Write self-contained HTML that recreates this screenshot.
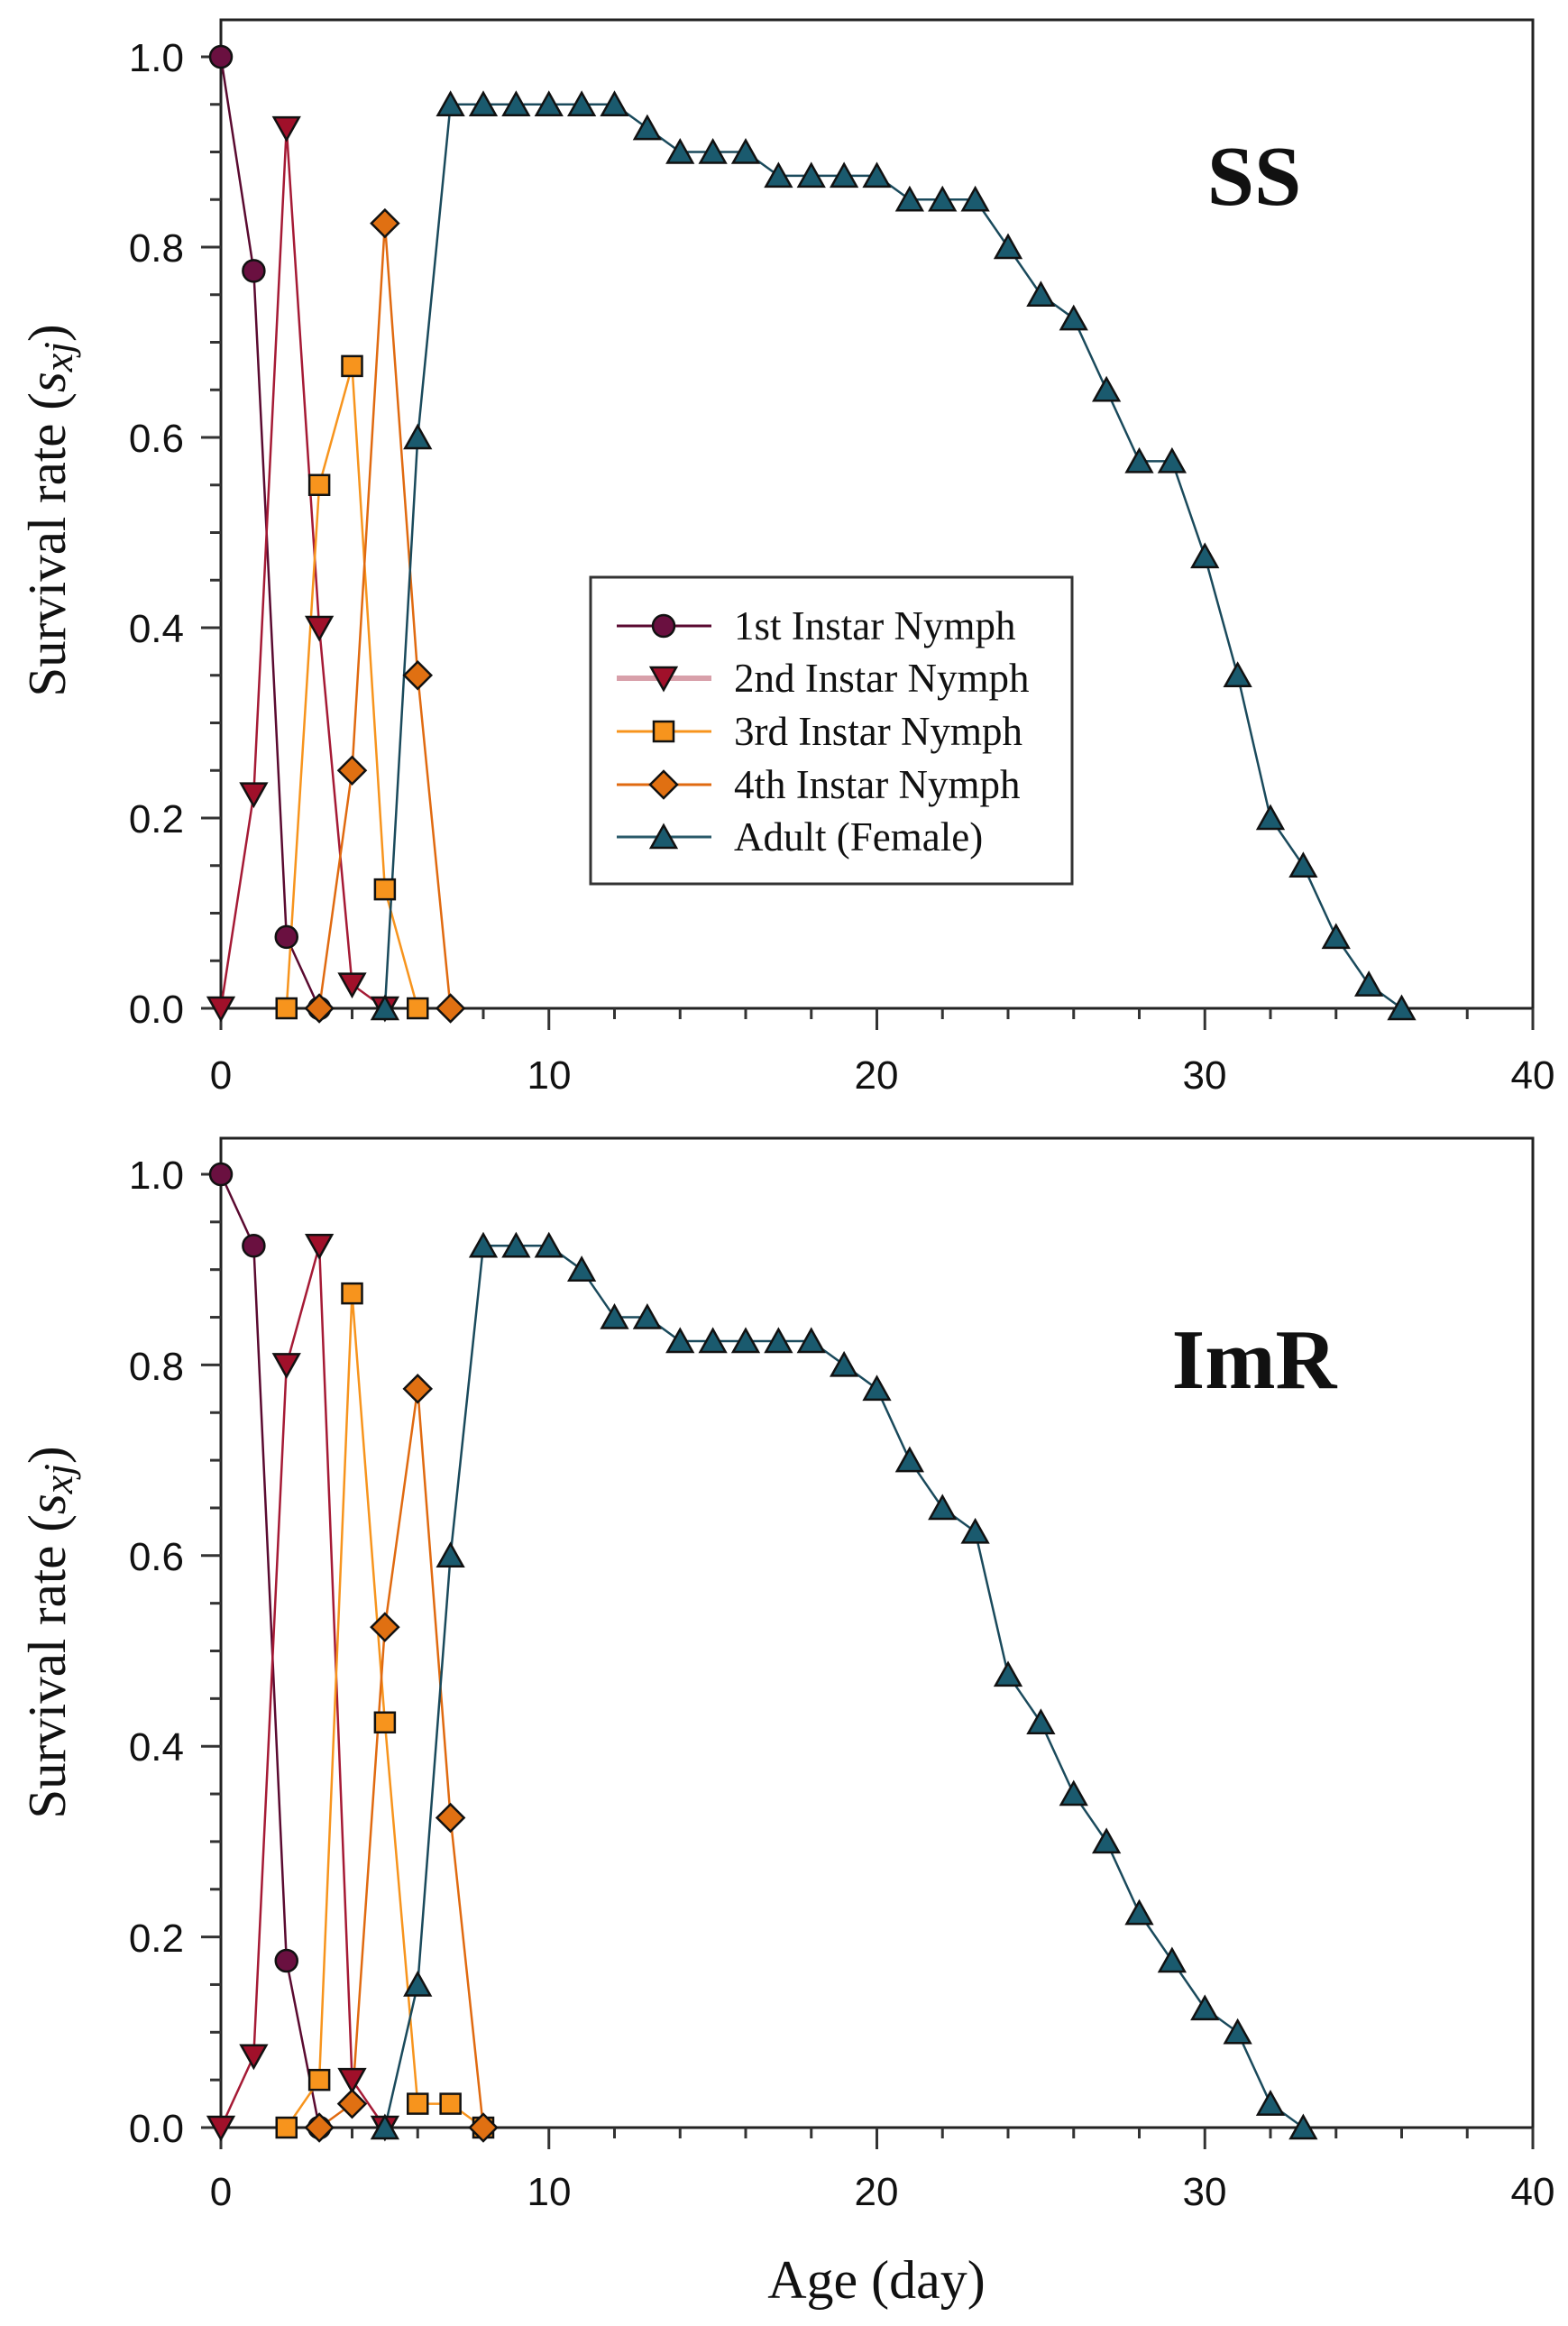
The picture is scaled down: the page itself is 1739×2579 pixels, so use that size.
<!DOCTYPE html>
<html><head><meta charset="utf-8"><style>
html,body{margin:0;padding:0;background:#fff}
svg{display:block}
.t{font-family:"Liberation Sans",Arial,sans-serif;font-size:44px;fill:#111}
.s{font-family:"Liberation Serif","Times New Roman",serif;fill:#111}
</style></head><body>
<svg id="c" width="1739" height="2579" viewBox="0 0 1739 2579" xmlns="http://www.w3.org/2000/svg">
<g id="g"></g>
<g class="t" text-anchor="end">
<text x="204" y="79">1.0</text><text x="204" y="290">0.8</text><text x="204" y="501">0.6</text>
<text x="204" y="712">0.4</text><text x="204" y="923">0.2</text><text x="204" y="1134">0.0</text>
<text x="204" y="1318">1.0</text><text x="204" y="1530">0.8</text><text x="204" y="1741">0.6</text>
<text x="204" y="1952">0.4</text><text x="204" y="2164">0.2</text><text x="204" y="2375">0.0</text>
</g>
<g class="t" text-anchor="middle">
<text x="245" y="1207">0</text><text x="609" y="1207">10</text><text x="972" y="1207">20</text><text x="1336" y="1207">30</text><text x="1700" y="1207">40</text>
<text x="245" y="2445">0</text><text x="609" y="2445">10</text><text x="972" y="2445">20</text><text x="1336" y="2445">30</text><text x="1700" y="2445">40</text>
</g>
<text class="s" x="972" y="2548" font-size="60" text-anchor="middle">Age (day)</text>
<text class="s" font-size="59" text-anchor="middle" transform="translate(72,566) rotate(-90)">Survival rate (<tspan font-style="italic">s<tspan baseline-shift="-8" font-size="46">xj</tspan></tspan>)</text>
<text class="s" font-size="59" text-anchor="middle" transform="translate(72,1810) rotate(-90)">Survival rate (<tspan font-style="italic">s<tspan baseline-shift="-8" font-size="46">xj</tspan></tspan>)</text>
<text class="s" x="1391" y="227" font-size="94" font-weight="bold" text-anchor="middle">SS</text>
<text class="s" x="1391" y="1539" font-size="94" font-weight="bold" text-anchor="middle">ImR</text>
<rect x="655" y="640" width="534" height="340" fill="#fff" stroke="#333" stroke-width="3"/>
<g class="s" font-size="45">
<text x="814" y="709">1st Instar Nymph</text>
<text x="814" y="767">2nd Instar Nymph</text>
<text x="814" y="826">3rd Instar Nymph</text>
<text x="814" y="885">4th Instar Nymph</text>
<text x="814" y="943">Adult (Female)</text>
</g>
<g id="leg"></g>
</svg>
<script>
var NS="http://www.w3.org/2000/svg";
function el(p,n,a){var e=document.createElementNS(NS,n);for(var k in a)e.setAttribute(k,a[k]);p.appendChild(e);return e;}
var g=document.getElementById('g');
var S=[
 {f:'#6a1040',l:'#5a0a30',m:'c'},
 {f:'#a0102a',l:'#a51a35',m:'v'},
 {f:'#f7941d',l:'#f7941d',m:'s'},
 {f:'#e07012',l:'#e06a10',m:'d'},
 {f:'#1a5a6e',l:'#1a4a5c',m:'^'}];
function mk(p,m,x,y,f){
 var st={fill:f,stroke:'#111','stroke-width':2.5};
 if(m=='c'){st.cx=x;st.cy=y;st.r=12;el(p,'circle',st);}
 else if(m=='s'){st.x=x-11;st.y=y-11;st.width=22;st.height=22;el(p,'rect',st);}
 else if(m=='d'){st.points=[x,y-15,x+15,y,x,y+15,x-15,y].join(' ');el(p,'polygon',st);}
 else if(m=='v'){st.points=[x-14,y-12,x+14,y-12,x,y+13].join(' ');el(p,'polygon',st);}
 else {st.points=[x-14,y+12,x+14,y+12,x,y-13].join(' ');el(p,'polygon',st);}
}
var D1=[
 [[0,1],[1,.775],[2,.075],[3,0]],
 [[0,0],[1,.225],[2,.925],[3,.4],[4,.025],[5,0]],
 [[2,0],[3,.55],[4,.675],[5,.125],[6,0]],
 [[3,0],[4,.25],[5,.825],[6,.35],[7,0]],
 [[5,0],[6,.6],[7,.95],[8,.95],[9,.95],[10,.95],[11,.95],[12,.95],[13,.925],[14,.9],[15,.9],[16,.9],[17,.875],[18,.875],[19,.875],[20,.875],[21,.85],[22,.85],[23,.85],[24,.8],[25,.75],[26,.725],[27,.65],[28,.575],[29,.575],[30,.475],[31,.35],[32,.2],[33,.15],[34,.075],[35,.025],[36,0]]];
var D2=[
 [[0,1],[1,.925],[2,.175],[3,0]],
 [[0,0],[1,.075],[2,.8],[3,.925],[4,.05],[5,0]],
 [[2,0],[3,.05],[4,.875],[5,.425],[6,.025],[7,.025],[8,0]],
 [[3,0],[4,.025],[5,.525],[6,.775],[7,.325],[8,0]],
 [[5,0],[6,.15],[7,.6],[8,.925],[9,.925],[10,.925],[11,.9],[12,.85],[13,.85],[14,.825],[15,.825],[16,.825],[17,.825],[18,.825],[19,.8],[20,.775],[21,.7],[22,.65],[23,.625],[24,.475],[25,.425],[26,.35],[27,.3],[28,.225],[29,.175],[30,.125],[31,.1],[32,.025],[33,0]]];
function panel(top,y1,y0,D){
 var X=function(v){return 245+v*36.375}, Y=function(v){return y0-(y0-y1)*v};
 el(g,'rect',{x:245,y:top,width:1455,height:y0-top,fill:'none',stroke:'#222','stroke-width':3});
 for(var i=0;i<=20;i++){var yy=Y(i*0.05);var L=(i%4==0)?22:12;el(g,'line',{x1:245-L,y1:yy,x2:245,y2:yy,stroke:'#333','stroke-width':3});}
 for(var j=0;j<=40;j+=2){var xx=X(j);var L2=(j%10==0)?24:12;el(g,'line',{x1:xx,y1:y0,x2:xx,y2:y0+L2,stroke:'#333','stroke-width':3});}
 D.forEach(function(s,k){
  el(g,'polyline',{points:s.map(function(p){return X(p[0])+','+Y(p[1])}).join(' '),fill:'none',stroke:S[k].l,'stroke-width':2.5});
 });
 D.forEach(function(s,k){s.forEach(function(p){mk(g,S[k].m,X(p[0]),Y(p[1]),S[k].f);});});
}
panel(22,63,1118,D1);
panel(1262,1302,2359,D2);
var lg=document.getElementById('leg');
var ly=[694,752,811,870,928];var lc=['#5a0a30','#d8a0aa','#f7941d','#e06a10','#2a5a6a'];
for(var i=0;i<5;i++){el(lg,'line',{x1:684,y1:ly[i],x2:789,y2:ly[i],stroke:lc[i],'stroke-width':i==1?6:3});mk(lg,S[i].m,736,ly[i],S[i].f);}
</script>
</body></html>
